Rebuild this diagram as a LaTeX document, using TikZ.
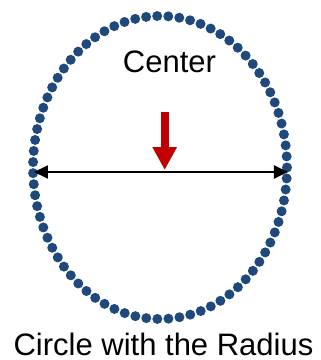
\documentclass[tikz,border=0pt]{standalone}
\usepackage{fontspec}
\setmainfont{Liberation Sans}
\usetikzlibrary{arrows.meta}
\definecolor{dotblue}{HTML}{1F497D}
\definecolor{arrred}{HTML}{C00000}
\tikzset{
  dotring/.style={draw=dotblue, line width=10pt, line cap=round, dash pattern=on 0pt off 11.1pt},
  label/.style={font=\fontsize{31}{36}\selectfont, inner sep=0pt, anchor=base},
  diam/.style={draw=black, line width=2pt, {Triangle[length=14pt,width=13pt]}-{Triangle[length=14pt,width=13pt]}},
  centerarrow/.style={draw=arrred, line width=8pt, -{Triangle[length=23pt,width=23pt]}}
}
\begin{document}
\begin{tikzpicture}[x=1pt,y=1pt]
\useasboundingbox (0,0) rectangle (321,360);
\path[dotring] (160,192.5) ellipse [x radius=127, y radius=151.5];
\coordinate (L) at (34,188);
\coordinate (R) at (288,188);
\coordinate (ctop) at (164.7,248);
\coordinate (ctip) at (164.7,190);
\draw[diam] (L) -- (R);
\draw[centerarrow] (ctop) -- (ctip);
\node[label] (center) at (169.5,287.3) {Center};
\node[label] (title) at (163.5,4.2) {Circle with the Radius};
\end{tikzpicture}
\end{document}
